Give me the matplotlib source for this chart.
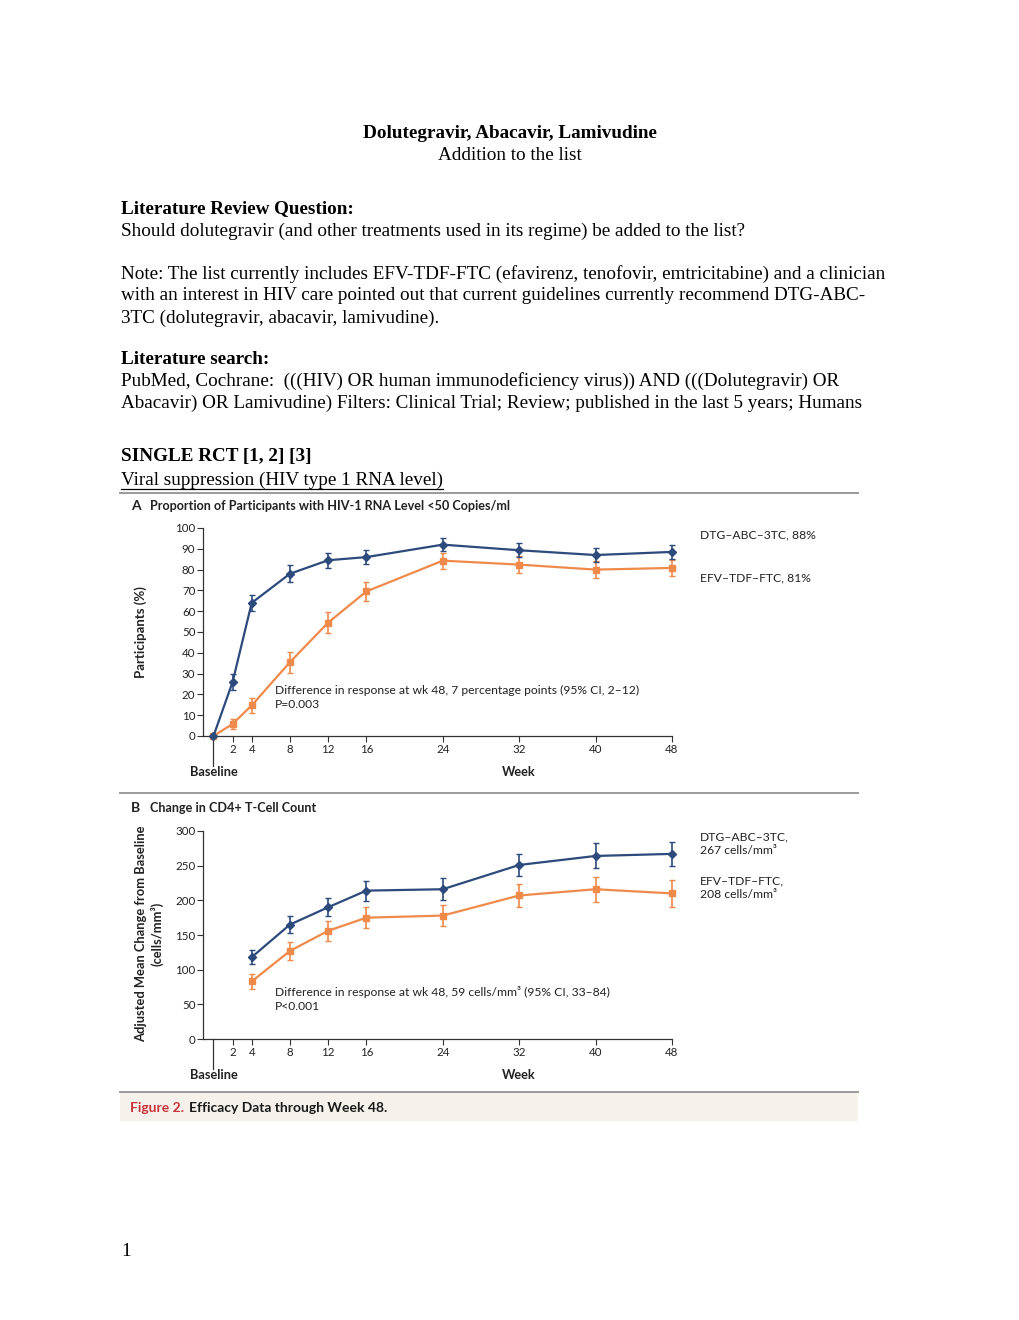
import matplotlib
matplotlib.use('Agg')
from matplotlib import pyplot as plt
from matplotlib.lines import Line2D
from matplotlib.patches import Rectangle

W, H = 1020, 1320

# panel A: HIV-1 RNA < 50 copies/ml (%)
weeks_a = [0, 2, 4, 8, 12, 16, 24, 32, 40, 48]
dtg_rna = [0, 26, 64, 78, 84.5, 86, 92, 89.3, 87, 88.5]
dtg_rna_err = [0, 4, 4, 4.2, 3.7, 3.5, 3, 3.3, 3.5, 3.4]
efv_rna = [0, 5.8, 14.7, 35.5, 54.5, 69.5, 84.3, 82.4, 80, 80.8]
efv_rna_err = [0, 2.5, 3.5, 5, 5, 4.5, 3.8, 4, 4, 3.8]

# panel B: change in CD4+ count (cells/mm3)
weeks_b = [4, 8, 12, 16, 24, 32, 40, 48]
dtg_cd4 = [118, 165, 190, 214, 216, 251, 264, 267]
dtg_cd4_err = [10, 12, 13, 14.5, 16, 16, 18, 17]
efv_cd4 = [83, 127, 156, 175, 178, 207, 216, 210]
efv_cd4_err = [11, 13, 14, 15, 15, 16, 18, 19]

tick_weeks = [2, 4, 8, 12, 16, 24, 32, 40, 48]
yticks_a = list(range(0, 101, 10))
yticks_b = list(range(0, 301, 50))

BLUE = '#2c4a7c'
ORANGE = '#f08a4b'
AXC = '#333333'
SERIF = 'Liberation Serif'
SANS = 'Lato'


def fx(x):
    return x / W


def fy(y):
    return 1 - y / H


fig = plt.figure(figsize=(W / 100, H / 100), dpi=100)
fig.patch.set_facecolor('white')


def body(x, y, s, bold=False, ha='left', size=13.8):
    # small downward nudge so the serif text sits like the scanned page
    fig.text(fx(x), fy(y + 2), s, ha=ha, va='center', family=SERIF,
             fontsize=size, fontweight='bold' if bold else 'normal', color='black')


def chart_text(x, y, s, bold=False, size=8.7, ha='left', color='#222222', rot=0):
    fig.text(fx(x), fy(y), s, ha=ha, va='center', family=SANS, fontsize=size,
             fontweight='bold' if bold else 'normal', color=color, rotation=rot)


def hline(x0, x1, y, color='#9a9a9a', lw=1.4):
    fig.add_artist(Line2D([fx(x0), fx(x1)], [fy(y), fy(y)], color=color, lw=lw,
                          transform=fig.transFigure))


# document text
body(510, 132, 'Dolutegravir, Abacavir, Lamivudine', bold=True, ha='center')
body(510, 154, 'Addition to the list', ha='center')
body(121, 207, 'Literature Review Question:', bold=True)
body(121, 229, 'Should dolutegravir (and other treatments used in its regime) be added to the list?')
body(121, 272, 'Note: The list currently includes EFV-TDF-FTC (efavirenz, tenofovir, emtricitabine) and a clinician')
body(121, 294, 'with an interest in HIV care pointed out that current guidelines currently recommend DTG-ABC-')
body(121, 316, '3TC (dolutegravir, abacavir, lamivudine).')
body(121, 357, 'Literature search:', bold=True)
body(121, 379, 'PubMed, Cochrane:  (((HIV) OR human immunodeficiency virus)) AND (((Dolutegravir) OR')
body(121, 401, 'Abacavir) OR Lamivudine) Filters: Clinical Trial; Review; published in the last 5 years; Humans')
body(121, 455, 'SINGLE RCT [1, 2] [3]', bold=True)
body(121, 478, 'Viral suppression (HIV type 1 RNA level) ')
hline(121, 443, 489, color='black', lw=0.9)
body(121, 1250, '1')

# figure frame lines and caption band
hline(120, 858, 493)
hline(120, 858, 793)
hline(120, 858, 1092)
fig.add_artist(Rectangle((fx(120), fy(1121)), fx(858) - fx(120), (1121 - 1093) / H,
                         facecolor='#f6f1ea', edgecolor='none', transform=fig.transFigure))
chart_text(130, 1108, 'Figure 2.', bold=True, size=10, color='#c8323a')
chart_text(189, 1108, 'Efficacy Data through Week 48.', bold=True, size=10, color='#1a1a1a')


def make_axes(top, bottom, ymax, yticks):
    ax = fig.add_axes([fx(203), fy(bottom), fx(672) - fx(203), (bottom - top) / H])
    ax.set_xlim(-(213.5 - 203) / ((672 - 213.5) / 48), 48)
    ax.set_ylim(0, ymax)
    for side in ['top', 'right']:
        ax.spines[side].set_visible(False)
    for side in ['left', 'bottom']:
        ax.spines[side].set_color(AXC)
        ax.spines[side].set_linewidth(0.9)
    ax.set_xticks(tick_weeks)
    ax.set_yticks(yticks)
    ax.tick_params(axis='both', length=4, width=0.8, color=AXC, labelsize=8.3,
                   labelcolor='#222222', pad=1.5)
    for lab in ax.get_xticklabels() + ax.get_yticklabels():
        lab.set_family(SANS)
    # long baseline tick
    ax.plot([0, 0], [0, -0.145], transform=ax.get_xaxis_transform(), clip_on=False,
            color=AXC, lw=0.9)
    ax.patch.set_alpha(0)
    return ax


# panel A
chart_text(131, 506, 'A', bold=True, size=10)
chart_text(150, 506, 'Proportion of Participants with HIV-1 RNA Level <50 Copies/ml', bold=True, size=9.1)
axa = make_axes(528, 736, 100, yticks_a)
axa.errorbar(weeks_a, efv_rna, yerr=efv_rna_err, color=ORANGE, lw=1.6, marker='s',
             markersize=4.2, elinewidth=1.2, capsize=2, capthick=1.0, clip_on=False, zorder=3)
axa.errorbar(weeks_a, dtg_rna, yerr=dtg_rna_err, color=BLUE, lw=1.6, marker='D',
             markersize=3.6, elinewidth=1.2, capsize=2, capthick=1.0, clip_on=False, zorder=4)
chart_text(214, 772, 'Baseline', bold=True, ha='center', size=9.2)
chart_text(519, 772, 'Week', bold=True, ha='center', size=9.2)
chart_text(141, 632, 'Participants (%)', bold=True, ha='center', rot=90, size=9.5)
chart_text(700, 535, 'DTG\u2013ABC\u20133TC, 88%')
chart_text(700, 578, 'EFV\u2013TDF\u2013FTC, 81%')
chart_text(275, 690, 'Difference in response at wk 48, 7 percentage points (95% CI, 2\u201312)')
chart_text(275, 704, 'P=0.003')

# panel B
chart_text(131, 808, 'B', bold=True, size=10)
chart_text(150, 808, 'Change in CD4+ T-Cell Count', bold=True, size=9.1)
axb = make_axes(831, 1039, 300, yticks_b)
axb.errorbar(weeks_b, efv_cd4, yerr=efv_cd4_err, color=ORANGE, lw=1.6, marker='s',
             markersize=4.2, elinewidth=1.2, capsize=2, capthick=1.0, clip_on=False, zorder=3)
axb.errorbar(weeks_b, dtg_cd4, yerr=dtg_cd4_err, color=BLUE, lw=1.6, marker='D',
             markersize=3.6, elinewidth=1.2, capsize=2, capthick=1.0, clip_on=False, zorder=4)
chart_text(214, 1075, 'Baseline', bold=True, ha='center', size=9.2)
chart_text(519, 1075, 'Week', bold=True, ha='center', size=9.2)
chart_text(141, 934, 'Adjusted Mean Change from Baseline', bold=True, ha='center', rot=90, size=9.3)
chart_text(157, 934, '(cells/mm\u00b3)', bold=True, ha='center', rot=90, size=9.3)
chart_text(700, 837, 'DTG\u2013ABC\u20133TC,')
chart_text(700, 851, '267 cells/mm\u00b3')
chart_text(700, 881, 'EFV\u2013TDF\u2013FTC,')
chart_text(700, 895, '208 cells/mm\u00b3')
chart_text(275, 992, 'Difference in response at wk 48, 59 cells/mm\u00b3 (95% CI, 33\u201384)')
chart_text(275, 1006, 'P<0.001')

fig.savefig('out.png', dpi=100)
